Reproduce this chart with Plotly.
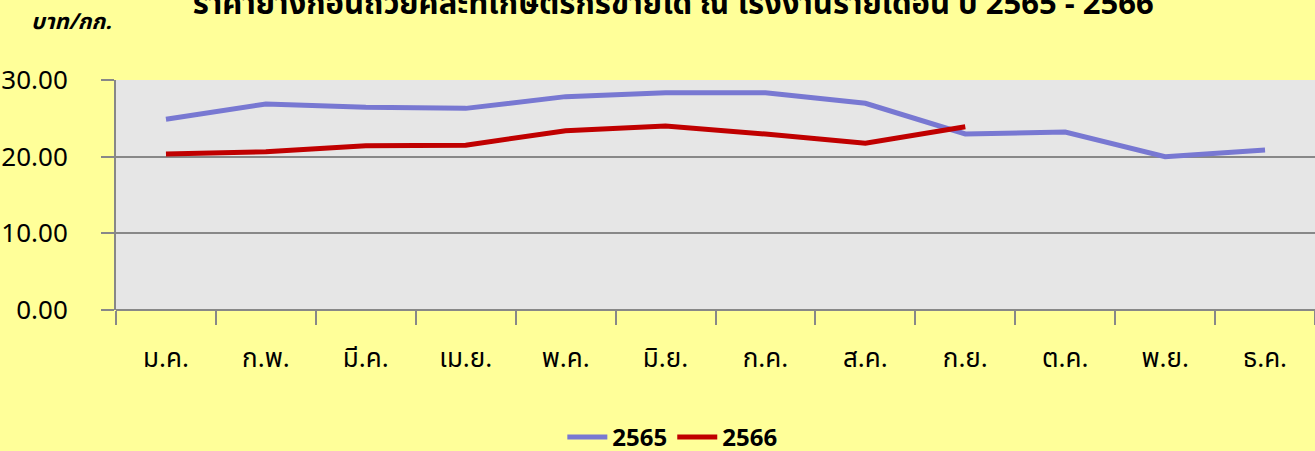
import plotly.graph_objects as go

months = ["ม.ค.", "ก.พ.", "มี.ค.", "เม.ย.", "พ.ค.", "มิ.ย.", "ก.ค.", "ส.ค.", "ก.ย.", "ต.ค.", "พ.ย.", "ธ.ค."]
price_2565 = [24.87, 26.87, 26.43, 26.30, 27.83, 28.35, 28.35, 26.96, 22.96, 23.22, 20.00, 20.87]
price_2566 = [20.35, 20.65, 21.43, 21.50, 23.39, 24.00, 22.95, 21.74, 23.91]
title_text = "ราคายางก้อนถ้วยคละที่เกษตรกรขายได้ ณ โรงงานรายเดือน ปี 2565 - 2566"
y_unit = "บาท/กก."

FONT = "Tahoma, 'Noto Sans Thai', 'Noto Sans', sans-serif"

fig = go.Figure()
fig.add_trace(go.Scatter(x=months, y=price_2565, name="<b>2565</b>", mode="lines",
                         line=dict(color="#7878D2", width=5)))
fig.add_trace(go.Scatter(x=months[:len(price_2566)], y=price_2566, name="<b>2566</b>", mode="lines",
                         line=dict(color="#C00000", width=5)))

fig.update_layout(
    width=1315, height=451,
    paper_bgcolor="#FFFF99", plot_bgcolor="#E6E6E6",
    margin=dict(l=116, r=0, t=80, b=141, autoexpand=False),
    font=dict(family=FONT, color="#000000"),
    title=dict(text="<b>" + title_text + "</b>", x=0.512, xanchor="center",
               y=0.993, yanchor="middle", yref="container",
               font=dict(size=31, family=FONT)),
    showlegend=True,
    legend=dict(orientation="h", x=0.464, xanchor="center", y=0.03, yanchor="middle",
                yref="container", itemwidth=40,
                font=dict(size=24, family=FONT), bgcolor="rgba(0,0,0,0)"),
    annotations=[dict(text="<b><i>" + y_unit + "</i></b>", xref="paper", yref="paper",
                      x=-0.037, y=1.25, xanchor="center", yanchor="middle",
                      showarrow=False, font=dict(size=22, family=FONT))],
)

fig.update_xaxes(type="category", range=[-0.5, 11.5], showgrid=False,
                 showline=False, tickson="boundaries", ticks="outside",
                 ticklen=14, tickwidth=2, tickcolor="#888888",
                 ticklabelstandoff=30, tickfont=dict(size=26, family=FONT),
                 zeroline=False)
fig.update_yaxes(range=[0, 30], dtick=10, tickformat=".2f", showgrid=True,
                 gridcolor="#888888", gridwidth=2, showline=True, linecolor="#888888",
                 linewidth=2, ticks="outside", ticklen=13, tickwidth=2,
                 tickcolor="#888888", ticklabelstandoff=28,
                 tickfont=dict(size=26, family=FONT), zeroline=True,
                 zerolinecolor="#888888", zerolinewidth=2)

fig.write_html("out.html", config={"displayModeBar": False},
               post_script="document.body.style.margin='0';")
